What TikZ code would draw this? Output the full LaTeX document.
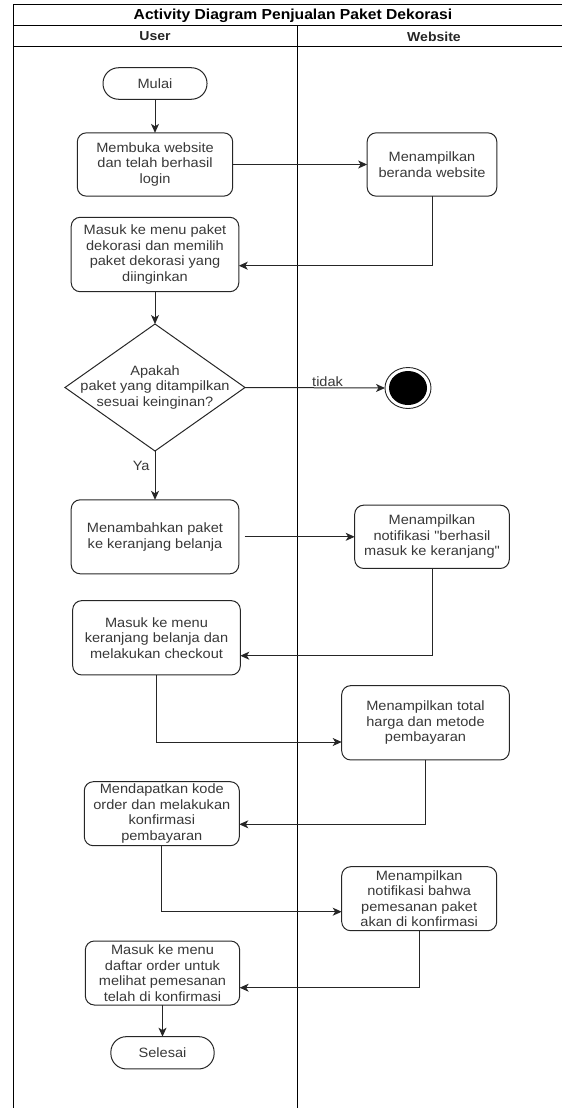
\documentclass[tikz,border=0pt]{standalone}
\usepackage{fontspec}
\setmainfont{Liberation Sans}[FakeStretch=1.08]
\newfontfamily\qfont{Liberation Sans}[FakeStretch=1.08]
\usetikzlibrary{shapes.geometric,arrows.meta}
\newcommand{\sq}{{\qfont"}}
\begin{document}
\begin{tikzpicture}[x=1pt,y=-1pt,
  frame/.style={draw=black, line width=1pt},
  actbox/.style={draw=black!85, line width=1pt, rounded corners=9pt, align=center,
    inner sep=0pt, outer sep=0pt, text=black!78, font=\fontsize{13.5}{15.5}\selectfont},
  termbox/.style={actbox, rounded corners=15.5pt},
  decision/.style={draw=black!85, line width=1pt, diamond, inner sep=0pt, outer sep=0pt},
  txt/.style={align=center, text=black!78, inner sep=0pt, font=\fontsize{13.5}{15.5}\selectfont},
  flow/.style={draw=black!85, line width=1pt, -{Stealth[length=9pt,width=8pt,inset=2.5pt]}},
  hdr/.style={font=\bfseries\fontsize{13}{15}\selectfont, text=black!85, inner sep=0pt},
]
\useasboundingbox (0,0) rectangle (562,1108);
\clip (0,0) rectangle (562,1108);

% swimlane frame
\draw[frame] (13,4.7) -- (575,4.7);
\draw[frame] (13,26) -- (575,26);
\draw[frame] (13,46.7) -- (575,46.7);
\draw[frame] (13,4.7) -- (13,1110);
\draw[frame] (297,26) -- (297,1110);
\node[hdr, font=\bfseries\fontsize{14.5}{16}\selectfont, text=black] (title) at (293,15.5) {Activity Diagram Penjualan Paket Dekorasi};
\node[hdr] (laneU) at (155,36.5) {User};
\node[hdr] (laneW) at (434,36.5) {Website};

% activities
\node[termbox, minimum width=104pt, minimum height=31.5pt] (mulai) at (155,83.5) {Mulai};
\node[actbox, minimum width=155.4pt, minimum height=63.3pt] (membuka) at (155,164.5) {Membuka website\\dan telah berhasil\\login};
\node[actbox, minimum width=129.7pt, minimum height=63.3pt] (beranda) at (432,164.5) {Menampilkan\\beranda website};
\node[actbox, minimum width=167.6pt, minimum height=74.4pt] (paket) at (155,254.5) {Masuk ke menu paket\\dekorasi dan memilih\\paket dekorasi yang\\diinginkan};
\node[decision, minimum width=180pt, minimum height=127pt] (dec) at (155,387.5) {};
\node[txt] (dectxt) at (155,387.5) {Apakah\\paket yang ditampilkan\\sesuai keinginan?};
\node[ellipse, draw=black!85, line width=0.9pt, minimum width=46pt, minimum height=41pt, inner sep=0pt, outer sep=0pt] (end) at (408,388) {};
\node[ellipse, fill=black, minimum width=38pt, minimum height=34pt, inner sep=0pt] (endin) at (408,388) {};
\node[actbox, minimum width=167.6pt, minimum height=74pt] (tambah) at (155,536.8) {Menambahkan paket\\ke keranjang belanja};
\node[actbox, minimum width=154.6pt, minimum height=63.3pt] (notif) at (432,536.8) {Menampilkan\\notifikasi \sq berhasil\\masuk ke keranjang\sq};
\node[actbox, minimum width=167.6pt, minimum height=74.3pt] (checkout) at (156.5,637.8) {Masuk ke menu\\keranjang belanja dan\\melakukan checkout};
\node[actbox, minimum width=167.6pt, minimum height=74.3pt] (total) at (425.5,722.8) {Menampilkan total\\harga dan metode\\pembayaran};
\node[actbox, minimum width=155pt, minimum height=64pt] (kode) at (161.8,813.7) {Mendapatkan kode\\order dan melakukan\\konfirmasi\\pembayaran};
\node[actbox, minimum width=155pt, minimum height=64pt] (konfirm) at (419.2,898.7) {Menampilkan\\notifikasi bahwa\\pemesanan paket\\akan di konfirmasi};
\node[actbox, minimum width=154.3pt, minimum height=64pt] (daftar) at (162.5,973) {Masuk ke menu\\daftar order untuk\\melihat pemesanan\\telah di konfirmasi};
\node[termbox, minimum width=103.3pt, minimum height=32.3pt] (selesai) at (162.5,1052.8) {Selesai};

% connectors
\draw[flow] (mulai.south) -- (membuka.north);
\draw[flow] (membuka.east) -- (beranda.west);
\draw[flow] (beranda.south) |- ([yshift=-11.2pt]paket.east);
\draw[flow] (paket.south) -- (dec.north);
\draw[flow] (dec.east) -- (end.west) node[txt, pos=0.59, above, yshift=1pt] (tidak) {tidak};
\draw[flow] (dec.south) -- (tambah.north) node[txt, pos=0.31, left, xshift=-5pt] (ya) {Ya};
\draw[flow] ([xshift=5.7pt]tambah.east) -- (notif.west);
\draw[flow] (notif.south) |- ([yshift=-17.9pt]checkout.east);
\draw[flow] (checkout.south) |- ([yshift=-19.2pt]total.west);
\draw[flow] (total.south) |- ([yshift=-10.6pt]kode.east);
\draw[flow] (kode.south) |- ([yshift=-13pt]konfirm.west);
\draw[flow] (konfirm.south) |- ([yshift=-14.7pt]daftar.east);
\draw[flow] (daftar.south) -- (selesai.north);
\end{tikzpicture}
\end{document}
